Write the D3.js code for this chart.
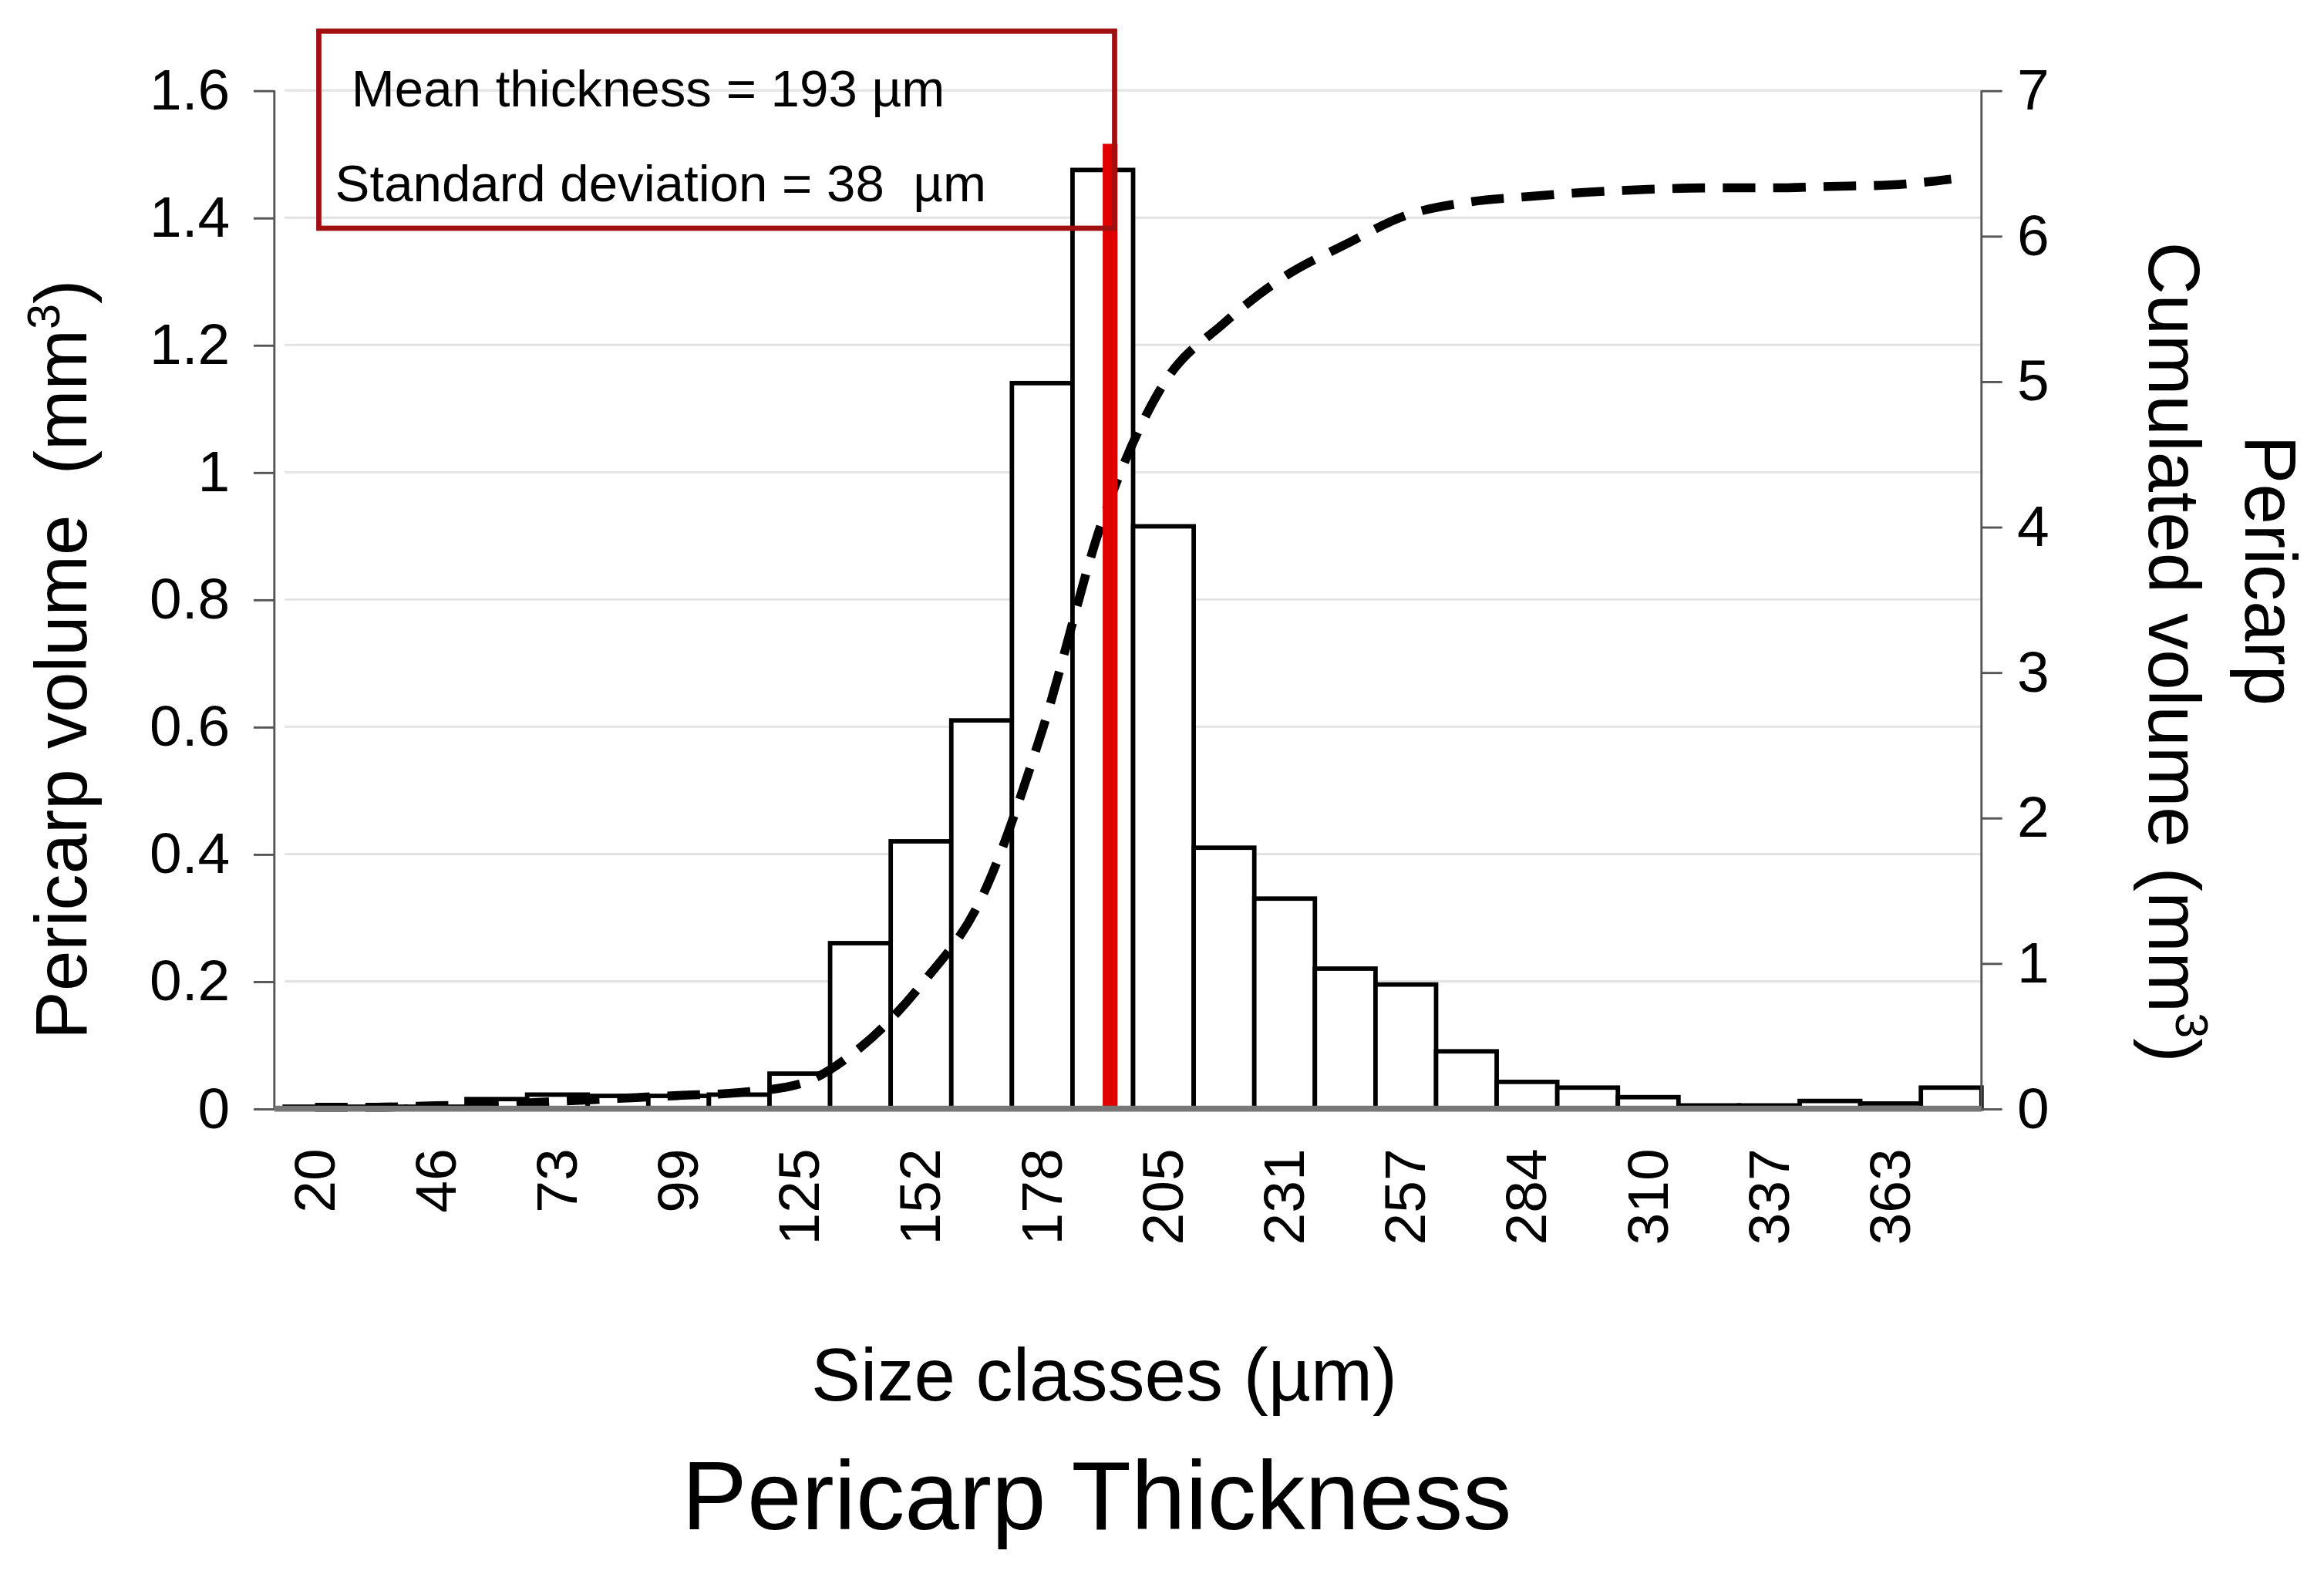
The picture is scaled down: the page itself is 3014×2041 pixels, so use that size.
<!DOCTYPE html>
<html lang="en">
<head>
<meta charset="utf-8">
<title>Pericarp thickness</title>
<script src="https://d3js.org/d3.v7.min.js"></script>
<style>body{margin:0;background:#fff}</style>
</head>
<body>
<script>
// size classes (um), bar volumes (mm3), cumulated volume (mm3)
var classes = [20,33,46,59,73,86,99,112,125,138,152,165,178,191,205,218,231,244,257,270,284,297,310,323,337,350,363,376];
var volume = [0.003,0.003,0.003,0.015,0.022,0.02,0.02,0.022,0.055,0.26,0.42,0.61,1.14,1.475,0.915,0.41,0.33,0.22,0.195,0.09,0.042,0.033,0.018,0.005,0.005,0.012,0.008,0.033];
var cumulated = [0.01,0.01,0.02,0.03,0.05,0.07,0.09,0.11,0.17,0.42,0.85,1.45,2.6,4.05,4.98,5.4,5.72,5.94,6.14,6.23,6.27,6.3,6.32,6.33,6.33,6.34,6.35,6.39];
var leftTicks = [0,0.2,0.4,0.6,0.8,1,1.2,1.4,1.6];
var rightTicks = [0,1,2,3,4,5,6,7];
var meanThickness = 193;

var svg = d3.select("body").append("svg")
  .attr("width", 3014).attr("height", 2041)
  .attr("viewBox", "0 0 1568 1062")
  .style("font-family", "Liberation Sans, Arial, sans-serif");

var L = 192, R = 1337, T = 61, B = 748;
var x = d3.scaleBand().domain(classes).range([L, R]).padding(0);
var y = d3.scaleLinear().domain([0, 1.6]).range([B, T]);
var y2 = d3.scaleLinear().domain([0, 7]).range([B, T]);
var step = classes[1] - classes[0];
var xv = d3.scaleLinear().domain([classes[0] - step / 2, classes[classes.length - 1] + step / 2]).range([L, R]);

// gridlines
svg.append("g").selectAll("line").data(leftTicks.slice(1)).join("line")
  .attr("x1", L).attr("x2", R).attr("y1", d => y(d)).attr("y2", d => y(d))
  .attr("stroke", "#e3e3e3").attr("stroke-width", 1.5);

// bars
svg.append("g").selectAll("rect").data(volume).join("rect")
  .attr("x", (d, i) => x(classes[i])).attr("width", x.bandwidth())
  .attr("y", d => y(d)).attr("height", d => B - y(d))
  .attr("fill", "#fff").attr("stroke", "#000").attr("stroke-width", 3);

// cumulative dashed line
svg.append("path").datum(cumulated)
  .attr("d", d3.line().x((d, i) => x(classes[i]) + x.bandwidth() / 2).y(d => y2(d)).curve(d3.curveMonotoneX))
  .attr("fill", "none").attr("stroke", "#000").attr("stroke-width", 6)
  .attr("stroke-dasharray", "22,12");

// mean line
svg.append("line").attr("x1", xv(meanThickness)).attr("x2", xv(meanThickness))
  .attr("y1", 97).attr("y2", B).attr("stroke", "#e00000").attr("stroke-width", 10);

// axes
var gl = svg.append("g").attr("transform", "translate(" + (L - 7) + ",0)")
  .call(d3.axisLeft(y).tickValues(leftTicks).tickFormat(d3.format("~g")).tickSize(14).tickPadding(16));
var gr = svg.append("g").attr("transform", "translate(" + R + ",0)")
  .call(d3.axisRight(y2).tickValues(rightTicks).tickFormat(d3.format("d")).tickSize(14).tickPadding(10));
[gl, gr].forEach(function (g) {
  g.selectAll("path,line").attr("stroke", "#555").attr("stroke-width", 1.5);
  g.selectAll("text").attr("font-size", 39).attr("fill", "#000").style("font-family", "Liberation Sans, Arial, sans-serif");
});
gl.select(".domain").attr("d", "M0," + B + "V" + T);
gr.select(".domain").attr("d", "M0," + B + "V" + T);
svg.append("line").attr("x1", L - 7).attr("x2", R).attr("y1", B).attr("y2", B)
  .attr("stroke", "#777").attr("stroke-width", 4);

// x tick labels, every other class
svg.append("g").selectAll("text").data(classes.filter((d, i) => i % 2 === 0)).join("text")
  .attr("transform", d => "translate(" + (x(d) + x.bandwidth() / 2 + 13) + ",775) rotate(-90)")
  .attr("text-anchor", "end").attr("font-size", 39).text(d => d);

// titles
svg.append("text").attr("transform", "translate(58,445) rotate(-90)").attr("text-anchor", "middle")
  .attr("font-size", 49).html("Pericarp volume &#160;(mm<tspan dy='-18' font-size='31'>3</tspan><tspan dy='18'>)</tspan>");
svg.append("text").attr("transform", "translate(1515,385) rotate(90)").attr("text-anchor", "middle")
  .attr("font-size", 49).text("Pericarp");
svg.append("text").attr("transform", "translate(1450,440) rotate(90)").attr("text-anchor", "middle")
  .attr("font-size", 49).html("Cumulated volume (mm<tspan dy='-18' font-size='31'>3</tspan><tspan dy='18'>)</tspan>");
svg.append("text").attr("x", 745).attr("y", 945).attr("text-anchor", "middle")
  .attr("font-size", 50).text("Size classes (\u00b5m)");
svg.append("text").attr("x", 740).attr("y", 1032).attr("text-anchor", "middle")
  .attr("font-size", 66).text("Pericarp Thickness");

// stats box
svg.append("rect").attr("x", 215).attr("y", 21).attr("width", 537).attr("height", 133)
  .attr("fill", "none").attr("stroke", "#a01010").attr("stroke-width", 3.5);
svg.append("text").attr("x", 237).attr("y", 72).attr("font-size", 35)
  .text("Mean thickness = " + meanThickness + " \u00b5m");
svg.append("text").attr("x", 226).attr("y", 136).attr("font-size", 35)
  .text("Standard deviation = 38 \u00a0\u00b5m");
</script>
</body>
</html>
